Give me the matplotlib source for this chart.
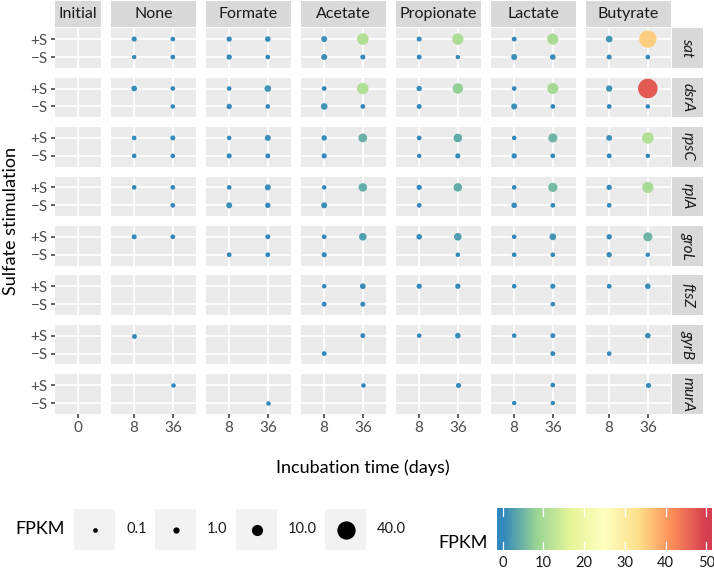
import numpy as np
import matplotlib
matplotlib.use('Agg')
import matplotlib.pyplot as plt
from matplotlib.colors import LinearSegmentedColormap, Normalize

plt.rcParams['font.family'] = ['Lato', 'DejaVu Sans']

# ---------------- data ----------------
treatments = ['Initial', 'None', 'Formate', 'Acetate', 'Propionate', 'Lactate', 'Butyrate']
initial_times = ['0']
times = ['8', '36']
sulfate_levels = ['\u2212S', '+S']          # bottom -> top
genes = ['sat', 'dsrA', 'rpsC', 'rplA', 'groL', 'ftsZ', 'gyrB', 'murA']
nan = np.nan
# per treatment (None..Butyrate): [8 +S, 8 -S, 36 +S, 36 -S]  (FPKM)
sat  = [0.25, 0.03, 0.08, 0.10,   0.30, 0.35, 0.50, 0.08,   0.8, 0.8, 11.0, 0.2,
        0.20, 0.15, 10.5, 0.03,   0.15, 0.8, 10.0, 0.5,     1.4, 0.2, 35.0, 0.07]
dsrA = [0.55, nan, 0.07, 0.05,    0.07, 0.4, 1.4, 0.07,     0.1, 1.4, 11.0, 0.1,
        0.35, 0.15, 8.0, nan,     0.1, 0.8, 9.5, 0.1,       1.1, 0.1, 47.0, 0.05]
rpsC = [0.08, 0.08, 0.2, 0.08,    0.05, 0.25, 0.8, 0.15,    0.4, 0.3, 4.5, nan,
        0.12, 0.03, 4.0, 0.25,    0.05, 0.35, 5.0, 0.1,     0.6, 0.15, 11.0, 0.03]
rplA = [0.08, nan, 0.08, 0.1,     0.08, 0.8, 0.8, 0.4,      0.05, 0.8, 4.0, nan,
        0.3, 0.1, 4.0, nan,       0.07, 0.5, 5.5, 0.1,      0.35, 0.08, 10.0, nan]
groL = [0.2, nan, 0.1, nan,       nan, 0.1, 0.15, 0.12,     0.1, 0.25, 2.5, nan,
        0.5, nan, 2.5, 0.05,      0.08, 0.08, 1.5, 0.08,    0.35, 0.35, 5.0, 0.03]
ftsZ = [nan, nan, nan, nan,       nan, nan, nan, nan,       0.05, 0.15, 0.6, 0.2,
        0.3, nan, 0.35, nan,      0.07, nan, 0.25, 0.07,    0.12, nan, 0.5, nan]
gyrB = [0.15, nan, nan, nan,      nan, nan, nan, nan,       nan, 0.12, 0.15, nan,
        0.05, nan, 0.5, nan,      0.07, nan, 0.2, 0.15,     nan, 0.08, 0.45, nan]
murA = [nan, nan, 0.05, nan,      nan, nan, nan, 0.05,      nan, nan, 0.05, nan,
        nan, nan, 0.25, nan,      nan, 0.03, 0.1, 0.03,     nan, nan, 0.25, nan]
gene_values = [sat, dsrA, rpsC, rplA, groL, ftsZ, gyrB, murA]

size_breaks = [0.1, 1.0, 10.0, 40.0]
size_labels = ['0.1', '1.0', '10.0', '40.0']
color_breaks = [0, 10, 20, 30, 40, 50]
color_limits = (0, 50)

# ---------------- styling ----------------
W, H = 714, 571
fig = plt.figure(figsize=(W / 100, H / 100), dpi=100)

spectral7 = ['#3288BD', '#99D594', '#E6F598', '#FFFFBF', '#FEE08B', '#FC8D59', '#D53E4F']
cmap = LinearSegmentedColormap.from_list('spec', spectral7)
norm = Normalize(*color_limits)


def diam_px(v):
    return 4.0 + 2.265 * np.sqrt(np.asarray(v, dtype=float))


def s_of(v):
    return (diam_px(v) * 0.72) ** 2


def px_axes(x0, y0, x1, y1):
    return fig.add_axes([x0 / W, 1 - y1 / H, (x1 - x0) / W, (y1 - y0) / H])


col_x = [(55, 101), (111, 196), (206, 291), (301, 386), (396, 481), (491, 576), (586, 671)]
row_top0, row_step, row_h = 28.3, 49.43, 39.5
TXT = '#1A1A1A'
TICK = '#4D4D4D'

for i, g in enumerate(genes):
    y0 = row_top0 + i * row_step
    y1 = y0 + row_h
    vals = gene_values[i]
    for j, tr in enumerate(treatments):
        x0, x1 = col_x[j]
        ax = px_axes(x0, y0, x1, y1)
        ax.set_facecolor('#EBEBEB')
        for sp in ax.spines.values():
            sp.set_visible(False)
        cats = initial_times if j == 0 else times
        n = len(cats)
        ax.set_xlim(0.4, n + 0.6)
        ax.set_ylim(0.4, 2.6)
        ax.set_xticks(range(1, n + 1))
        ax.set_yticks([1, 2])
        ax.grid(True, color='white', linewidth=1.3)
        ax.set_axisbelow(True)
        ax.tick_params(axis='both', length=3.2, width=1.1, color='#333333',
                       labelsize=11, labelcolor=TICK, pad=2)
        if j == 0:
            ax.set_yticklabels(sulfate_levels)
        else:
            ax.tick_params(axis='y', length=0, labelleft=False)
        if i == len(genes) - 1:
            ax.set_xticklabels(cats)
        else:
            ax.tick_params(axis='x', length=0, labelbottom=False)
        if j > 0:
            v = np.array(vals[(j - 1) * 4:(j - 1) * 4 + 4], dtype=float)
            xs = np.array([1, 1, 2, 2])
            ys = np.array([2, 1, 2, 1])
            m = ~np.isnan(v)
            ax.scatter(xs[m], ys[m], s=s_of(v[m]), c=v[m], cmap=cmap, norm=norm,
                       linewidths=0, zorder=3, clip_on=False)
    # right strip
    sax = px_axes(672, y0, 703, y1)
    sax.set_facecolor('#D9D9D9')
    sax.set_xticks([]); sax.set_yticks([])
    for sp in sax.spines.values():
        sp.set_visible(False)
    sax.text(0.5, 0.5, g, rotation=-90, ha='center', va='center', fontsize=11,
             style='italic', color=TXT, transform=sax.transAxes)

# top strips
for j, tr in enumerate(treatments):
    x0, x1 = col_x[j]
    sax = px_axes(x0, 0.5, x1, 27.3)
    sax.set_facecolor('#D9D9D9')
    sax.set_xticks([]); sax.set_yticks([])
    for sp in sax.spines.values():
        sp.set_visible(False)
    sax.text(0.5, 0.5, tr, ha='center', va='center', fontsize=11.5, color=TXT,
             transform=sax.transAxes)

# axis titles
fig.text(363 / W, 1 - 468 / H, 'Incubation time (days)', ha='center', va='center',
         fontsize=13, color='black')
fig.text(11 / W, 1 - 221 / H, 'Sulfate stimulation', ha='center', va='center',
         rotation=90, fontsize=13, color='black')

# size legend
fig.text(15 / W, 1 - 529 / H, 'FPKM', ha='left', va='center', fontsize=13, color='black')
key_x = [74, 155, 236, 325]
for k, (b, lab) in enumerate(zip(size_breaks, size_labels)):
    kx = key_x[k]
    kax = px_axes(kx, 509, kx + 41, 550)
    kax.set_facecolor('#F2F2F2')
    kax.set_xlim(0, 1); kax.set_ylim(0, 1)
    kax.set_xticks([]); kax.set_yticks([])
    for sp in kax.spines.values():
        sp.set_visible(False)
    kax.scatter([0.5], [0.5], s=s_of(b), color='black', linewidths=0)
    fig.text((kx + 52) / W, 1 - 529 / H, lab, ha='left', va='center',
             fontsize=10.5, color=TXT)

# colour bar
cax = px_axes(497, 508, 712, 550)
lo, hi = -1.35, 51.35
grad = np.linspace(lo, hi, 400)[None, :]
cax.imshow(grad, extent=(lo, hi, 0, 1), aspect='auto', cmap=cmap, norm=norm,
           interpolation='bilinear')
cax.set_xlim(lo, hi); cax.set_ylim(0, 1)
for b in color_breaks:
    cax.plot([b, b], [0, 0.19], color='white', lw=0.9)
    cax.plot([b, b], [0.81, 1], color='white', lw=0.9)
cax.set_yticks([])
cax.set_xticks(color_breaks)
cax.set_xticklabels([str(b) for b in color_breaks])
cax.tick_params(axis='x', length=0, labelsize=10.5, labelcolor=TXT, pad=4)
for sp in cax.spines.values():
    sp.set_visible(False)
fig.text(438 / W, 1 - 543 / H, 'FPKM', ha='left', va='center', fontsize=13, color='black')

fig.savefig('out.png', dpi=100)
